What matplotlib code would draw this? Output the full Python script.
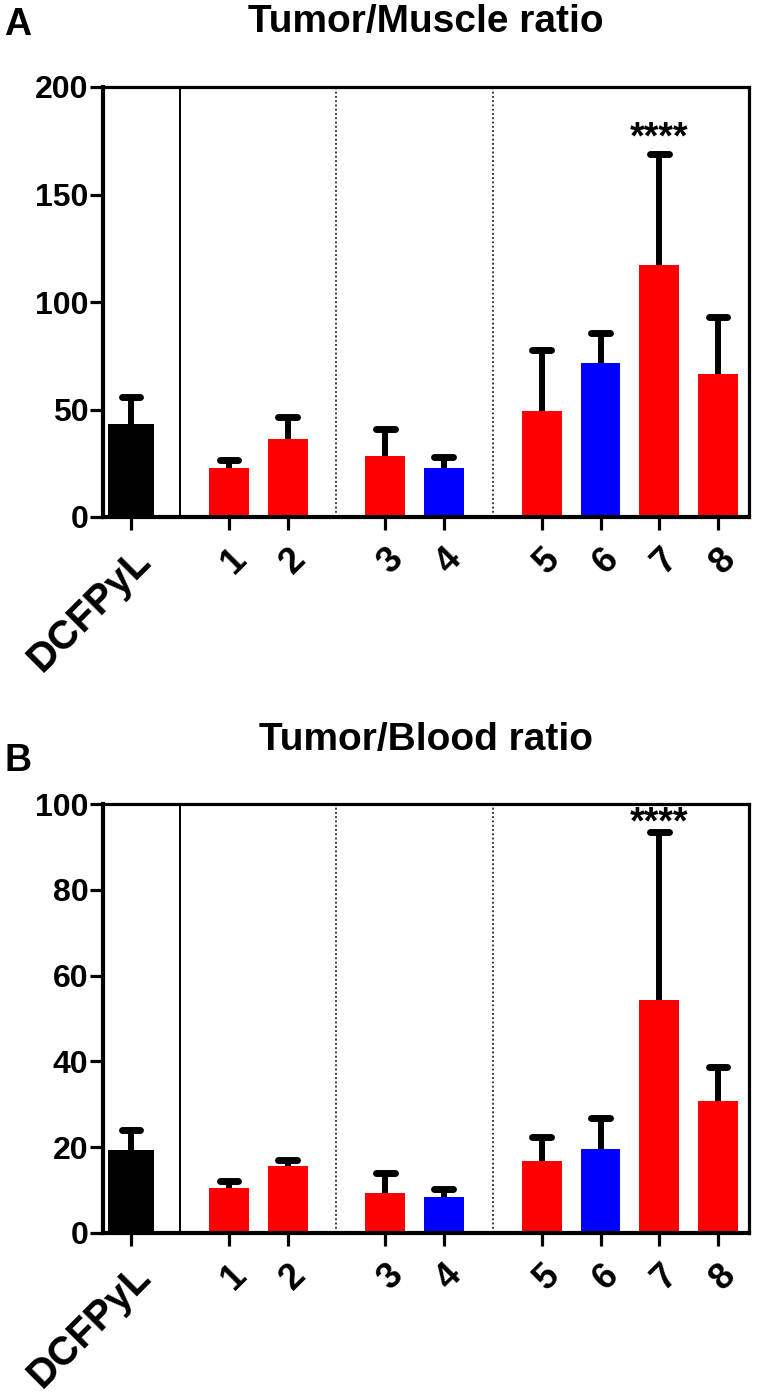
import numpy as np
import matplotlib
matplotlib.use('Agg')
import matplotlib.pyplot as plt
import matplotlib.transforms as mtransforms

plt.rcParams['font.family'] = ['Liberation Sans', 'DejaVu Sans']
plt.rcParams['font.weight'] = 'bold'

# data
labels = ['DCFPyL', '1', '2', '3', '4', '5', '6', '7', '8']
muscle_mean = [43.1, 22.6, 36.4, 28.3, 22.6, 49.1, 71.7, 117.0, 66.7]
muscle_upper = [55.6, 26.5, 46.3, 41.0, 28.0, 77.9, 85.4, 169.0, 93.0]
blood_mean = [19.3, 10.5, 15.6, 9.3, 8.4, 16.7, 19.5, 54.3, 30.7]
blood_upper = [23.9, 12.2, 17.1, 14.0, 10.2, 22.4, 26.8, 93.4, 38.6]
colors = ['black', 'red', 'red', 'red', 'blue', 'red', 'blue', 'red', 'red']
star_idx = 7

# x positions: groups separated by gaps
xpos = np.array([0, 1.67, 2.67, 4.33, 5.33, 7, 8, 9, 10])
widths = [0.77] + [0.68] * 8
solid_sep = 0.835
dotted_sep = [3.5, 6.165]

fig = plt.figure(figsize=(7.57, 13.96), dpi=100)
shift = mtransforms.ScaledTranslation(-10 / 100, 0, fig.dpi_scale_trans)


def panel(rect, mean, upper, ymax, yticks, title, letter, title_y, letter_y, star_y):
    ax = fig.add_axes(rect)
    ax.bar(xpos, mean, width=widths, color=colors, zorder=2)
    ax.vlines(xpos, mean, upper, color='black', lw=4.3, zorder=3)
    ax.hlines(upper, xpos - 0.16, xpos + 0.16, color='black', lw=5,
              capstyle='round', zorder=3)
    ax.axvline(solid_sep, color='black', lw=1.4, zorder=1)
    for s in dotted_sep:
        ax.axvline(s, color='black', lw=1.1, ls=(0, (1.2, 1.6)), zorder=1)
    ax.set_xlim(-0.477, 10.53)
    ax.set_ylim(0, ymax)
    ax.set_yticks(yticks)
    ax.set_yticklabels([str(v) for v in yticks], fontsize=23, fontweight='bold')
    ax.set_xticks(xpos)
    ax.set_xticklabels(labels, rotation=45, ha='right', va='top',
                       rotation_mode='anchor', fontweight='bold')
    for i, t in enumerate(ax.get_xticklabels()):
        t.set_fontsize(29 if i == 0 else 26)
        t.set_transform(t.get_transform() + shift)
    ax.tick_params(axis='both', direction='out', length=9.5, width=2.3, pad=1)
    ax.tick_params(axis='x', pad=8)
    for side in ['left', 'bottom']:
        ax.spines[side].set_linewidth(3)
    for side in ['top', 'right']:
        ax.spines[side].set_linewidth(2.3)
    ax.text(xpos[star_idx], star_y, '****', ha='center', va='center',
            fontsize=27, fontweight='bold')
    cx = rect[0] + rect[2] / 2
    fig.text(cx, title_y, title, ha='center', va='center', fontsize=28,
             fontweight='bold')
    fig.text(0.006, letter_y, letter, ha='left', va='center', fontsize=27,
             fontweight='bold')
    return ax


H = 1396.0
panel([103 / 757, 1 - 517 / H, 646 / 757, 430 / H], muscle_mean, muscle_upper,
      200, [0, 50, 100, 150, 200], 'Tumor/Muscle ratio', 'A',
      1 - 22 / H, 1 - 25 / H, 176)
panel([103 / 757, 1 - 1233 / H, 646 / 757, 429 / H], blood_mean, blood_upper,
      100, [0, 20, 40, 60, 80, 100], 'Tumor/Blood ratio', 'B',
      1 - 740 / H, 1 - 761 / H, 95.5)

fig.savefig('out.png', dpi=100)
